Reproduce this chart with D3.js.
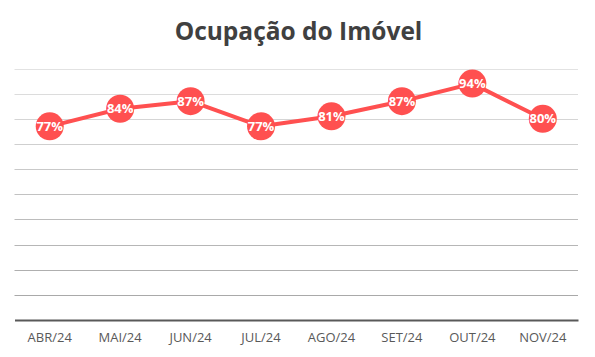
<!DOCTYPE html>
<html><head><meta charset="utf-8">
<script src="https://cdn.jsdelivr.net/npm/d3@7"></script>
<style>html,body{margin:0;padding:0;background:#fff;}svg{display:block;}</style>
</head><body>
<svg id="chart" width="595" height="357"></svg>
<script>
const title = "Ocupação do Imóvel";
const months = ["ABR/24","MAI/24","JUN/24","JUL/24","AGO/24","SET/24","OUT/24","NOV/24"];
const occupancy = [77, 84, 87, 77, 81, 87, 94, 80];
const yTicks = [0,10,20,30,40,50,60,70,80,90,100];

const svg = d3.select("#chart");
const W = 595, H = 357;
const m = {left: 14.5, right: 17, top: 68.5, bottom: 37};
const x = d3.scaleBand().domain(months).range([m.left, W - m.right]);
const y = d3.scaleLinear().domain([0, 100]).range([H - m.bottom, m.top]);

svg.append("rect").attr("width", W).attr("height", H).attr("fill", "#fff");

const gridColor = d3.scaleLinear().domain([100, 10]).range(["#e2e2e2", "#a9a9a9"]);
svg.append("g").selectAll("line").data(yTicks.filter(d => d > 0)).join("line")
  .attr("x1", m.left).attr("x2", W - m.right)
  .attr("y1", d => Math.round(y(d)) + 0.5).attr("y2", d => Math.round(y(d)) + 0.5)
  .attr("stroke", d => gridColor(d)).attr("stroke-width", 1);

const xAxis = svg.append("g").attr("transform", `translate(0,${Math.round(y(0))})`)
  .call(d3.axisBottom(x).tickSize(0).tickPadding(13));
xAxis.select(".domain").attr("stroke", "#595959").attr("stroke-width", 2);
xAxis.selectAll("text").attr("fill", "#595959")
  .style("font-family", "'Open Sans', sans-serif").style("font-size", "13px");

svg.append("text").attr("x", W / 2 + 1).attr("y", 40).attr("text-anchor", "middle")
  .attr("fill", "#404040").style("font-family", "'Open Sans', sans-serif")
  .style("font-weight", "bold").style("font-size", "24.5px").text(title);

const line = d3.line().x((d, i) => x(months[i]) + x.bandwidth() / 2).y(d => y(d));
svg.append("path").datum(occupancy).attr("d", line).attr("fill", "none")
  .attr("stroke", "#ff5050").attr("stroke-width", 4).attr("stroke-linejoin", "round");

const pts = svg.append("g").selectAll("g").data(occupancy).join("g")
  .attr("transform", (d, i) => `translate(${x(months[i]) + x.bandwidth() / 2},${y(d)})`);
pts.append("circle").attr("r", 14).attr("fill", "#ff5050");
pts.append("text").attr("text-anchor", "middle").attr("dy", "0.36em")
  .attr("fill", "#fff").style("font-family", "'Open Sans', sans-serif")
  .style("font-weight", "bold").style("font-size", "13px")
  .text(d => d + "%");
</script>
</body></html>
